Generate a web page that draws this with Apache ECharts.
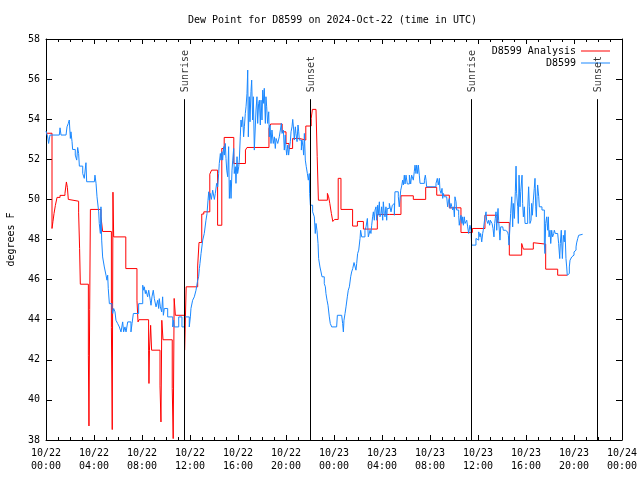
<!DOCTYPE html>
<html><head><meta charset="utf-8">
<script src="https://cdn.jsdelivr.net/npm/echarts@6/dist/echarts.min.js"></script>
<style>html,body{margin:0;padding:0;background:#fff}#c{width:640px;height:480px}</style>
</head><body><div id="c"></div>
<script>
const FONT = 'DejaVu Sans Mono';
const titleText = 'Dew Point for D8599 on 2024-Oct-22 (time in UTC)';
const yName = 'degrees F';
const yMin = 38, yMax = 58, yStep = 2;
const xMin = 0, xMax = 48, xStep = 4; // hours since 10/22 00:00 UTC
const xTickLabels = ['10/22\n00:00','10/22\n04:00','10/22\n08:00','10/22\n12:00','10/22\n16:00','10/22\n20:00',
  '10/23\n00:00','10/23\n04:00','10/23\n08:00','10/23\n12:00','10/23\n16:00','10/23\n20:00','10/24\n00:00'];
const seriesNames = ['D8599 Analysis', 'D8599'];
const sunTimes = [11.53, 22.03, 35.47, 45.94];
const sunLabels = ['Sunrise', 'Sunset', 'Sunrise', 'Sunset'];
const sunLineTop = 55.0;

// [hour, dew point °F]
const analysisData = [[0,53.3],[0.5,48.55],[0.58,48.9],[0.67,49.3],[0.78,49.7],[0.92,50.1],[1.17,50.2],[1.58,50.3],[1.7,50.87],[1.78,50.6],[1.86,50.0],[1.95,49.91],[2.72,49.33],[2.8,47.55],[2.86,45.77],[3.53,42.23],[3.58,38.7],[3.64,44.5],[3.7,49.5],[4.58,49.13],[4.72,48.4],[5.45,43.6],[5.52,38.52],[5.58,50.36],[5.64,48.13],[6.65,46.55],[7.58,44.97],[7.67,43.89],[7.75,44.0],[8.55,42.48],[8.58,40.82],[8.62,42.48],[8.72,43.72],[8.8,42.48],[9.5,40.7],[9.58,38.9],[9.65,43.97],[9.75,43.0],[10.52,40.57],[10.6,38.07],[10.68,45.06],[10.78,44.22],[11.55,42.48],[11.68,45.64],[12.64,46.68],[12.75,47.85],[12.98,49.27],[13.15,49.38],[13.65,51.26],[13.8,51.46],[14.3,48.71],[14.65,52.54],[14.85,53.09],[15.65,51.79],[16.62,52.46],[16.75,52.59],[18.58,53.54],[18.72,53.76],[19.68,53.37],[20.0,52.79],[20.25,52.54],[20.55,53.04],[21.1,52.96],[21.65,53.66],[22.1,54.04],[22.2,54.49],[22.5,54.4],[22.6,52.13],[22.7,49.96],[23.45,50.3],[23.55,50.13],[23.65,49.8],[23.78,49.3],[23.9,48.9],[24.05,49.0],[24.35,51.05],[24.58,49.5],[25.55,48.67],[25.95,48.9],[26.45,48.52],[27.61,49.25],[28.61,49.17],[28.67,49.25],[29.58,50.18],[30.61,50.0],[31.64,50.6],[32.56,50.21],[33.61,49.58],[34.58,48.35],[35.53,48.55],[36.58,49.21],[37.61,48.85],[38.61,47.22],[39.64,47.8],[39.78,47.52],[40.61,47.84],[40.75,47.77],[41.64,46.52],[42.64,46.22],[43.44,46.22]];

const stationData = [[0,53.41],[0.14,53.12],[0.22,52.79],[0.33,53.21],[1.11,53.21],[1.17,53.57],[1.25,53.21],[1.67,53.21],[1.75,53.62],[1.86,53.79],[1.94,53.96],[2.03,53.04],[2.08,53.37],[2.17,52.88],[2.22,52.49],[2.44,52.21],[2.56,51.96],[2.64,52.59],[2.72,52.29],[2.78,51.66],[3.06,51.29],[3.19,51.05],[3.33,51.83],[3.39,50.88],[4.03,50.88],[4.08,51.21],[4.17,50.8],[4.25,50.13],[4.39,49.38],[4.44,48.8],[4.53,48.3],[4.58,49.63],[4.64,47.97],[4.72,47.13],[4.86,46.63],[5.0,46.22],[5.08,45.97],[5.14,46.22],[5.19,45.55],[5.28,44.8],[5.5,44.56],[5.56,44.31],[5.64,44.56],[5.75,44.39],[5.83,43.97],[5.97,43.81],[6.11,43.64],[6.25,43.39],[6.39,43.89],[6.47,43.39],[6.58,43.64],[6.67,43.39],[6.81,43.89],[7.08,43.39],[7.17,43.81],[7.28,44.31],[7.72,44.8],[8.06,45.72],[8.14,45.47],[8.19,45.64],[8.28,45.3],[8.33,45.47],[8.47,45.14],[8.56,45.47],[8.69,44.97],[8.75,44.72],[8.83,45.14],[8.94,45.47],[9.03,45.05],[9.17,44.64],[9.31,44.97],[9.39,44.56],[9.44,45.05],[9.53,44.64],[9.64,44.39],[9.72,45.14],[9.78,44.22],[9.86,44.56],[10.14,44.14],[10.56,43.64],[10.64,43.97],[10.69,43.64],[11.06,44.14],[11.33,43.64],[11.53,44.14],[11.94,43.64],[12.03,44.14],[12.08,44.56],[12.22,44.97],[12.36,45.14],[12.5,45.47],[12.64,45.97],[12.72,46.14],[12.78,46.55],[12.83,46.8],[12.92,47.3],[13.06,47.97],[13.19,48.3],[13.33,48.96],[13.42,49.3],[13.5,49.96],[13.56,50.38],[13.61,49.96],[13.69,50.3],[13.78,50.0],[13.89,50.46],[14.03,50.0],[14.11,50.3],[14.22,50.8],[14.31,50.63],[14.39,51.29],[14.44,51.79],[14.53,52.29],[14.58,51.96],[14.67,52.38],[14.72,51.96],[14.81,52.63],[14.86,52.21],[14.94,52.79],[15.0,52.04],[15.06,51.46],[15.14,51.13],[15.22,52.63],[15.28,50.05],[15.36,50.96],[15.42,50.05],[15.5,51.46],[15.56,51.96],[15.64,52.54],[15.69,51.29],[15.78,51.63],[15.83,50.8],[15.92,52.13],[15.97,51.29],[16.06,51.63],[16.11,51.96],[16.19,53.12],[16.25,53.96],[16.31,53.62],[16.39,54.12],[16.47,53.12],[16.53,53.62],[16.61,54.29],[16.67,54.62],[16.75,55.29],[16.81,56.45],[16.86,53.12],[16.94,55.12],[17.0,53.87],[17.08,55.37],[17.14,55.95],[17.22,53.96],[17.28,55.12],[17.36,52.46],[17.5,54.46],[17.58,55.12],[17.64,53.79],[17.72,54.79],[17.78,54.95],[17.86,53.71],[17.92,54.95],[18.0,53.96],[18.06,55.45],[18.14,54.79],[18.19,55.54],[18.28,53.79],[18.33,55.12],[18.39,54.62],[18.47,53.79],[18.56,54.37],[18.61,53.12],[18.67,53.71],[18.75,52.79],[18.83,53.46],[18.94,52.79],[19.03,53.12],[19.11,52.54],[19.17,53.04],[19.31,52.79],[19.44,53.12],[19.53,53.46],[19.61,53.79],[19.67,53.29],[19.78,53.46],[19.86,52.46],[19.94,53.21],[20.0,52.54],[20.06,52.21],[20.14,52.71],[20.22,52.21],[20.28,52.54],[20.36,52.88],[20.42,53.37],[20.5,53.62],[20.56,53.99],[20.64,53.46],[20.69,52.96],[20.78,53.62],[20.83,53.29],[20.92,52.88],[21.0,53.71],[21.06,53.37],[21.11,52.96],[21.28,52.46],[21.33,52.96],[21.42,52.63],[21.47,52.21],[21.53,53.29],[21.61,51.96],[21.69,51.63],[21.78,51.29],[21.86,50.96],[21.94,51.29],[21.97,50.3],[22.03,49.71],[22.22,49.38],[22.36,49.13],[22.44,48.3],[22.5,48.8],[22.58,48.46],[22.67,47.8],[22.72,47.05],[22.83,46.63],[22.92,46.38],[23.0,46.14],[23.19,45.8],[23.28,45.64],[23.33,45.3],[23.42,44.97],[23.5,44.72],[23.61,44.14],[23.69,43.81],[23.81,43.64],[24.22,43.64],[24.28,44.22],[24.64,44.22],[24.72,43.81],[24.78,43.39],[24.83,43.97],[24.92,44.31],[25.0,44.64],[25.11,45.14],[25.19,45.47],[25.28,45.64],[25.39,46.14],[25.47,46.38],[25.56,46.55],[25.67,46.85],[25.75,46.8],[25.83,46.47],[25.89,46.8],[25.97,47.3],[26.06,47.47],[26.17,48.05],[26.22,48.46],[26.31,48.13],[26.58,48.46],[26.67,48.63],[26.78,49.05],[26.86,48.13],[27.0,48.46],[27.08,48.3],[27.14,48.71],[27.22,49.13],[27.28,49.38],[27.36,48.96],[27.42,49.47],[27.5,49.63],[27.56,48.96],[27.64,49.71],[27.69,49.21],[27.78,49.88],[27.83,49.13],[27.92,49.3],[27.97,49.63],[28.06,48.96],[28.11,49.88],[28.19,49.3],[28.25,49.13],[28.33,49.63],[28.39,48.96],[28.44,49.55],[28.61,49.8],[28.75,49.38],[28.86,49.71],[28.94,49.8],[29.03,49.21],[29.08,50.38],[29.36,50.13],[29.44,49.63],[29.56,50.46],[29.64,50.67],[29.72,50.96],[29.78,50.72],[29.86,51.21],[29.92,50.77],[30.0,51.21],[30.11,50.77],[30.28,51.21],[30.39,50.77],[30.47,51.21],[30.61,50.96],[30.69,51.38],[30.75,51.71],[30.83,51.29],[30.89,51.71],[30.97,51.29],[31.03,51.71],[31.11,51.21],[31.17,50.8],[31.53,50.96],[31.61,51.21],[31.67,50.96],[31.72,50.63],[32.5,50.8],[32.61,51.05],[32.69,50.72],[32.78,51.05],[32.83,50.46],[32.92,50.3],[33.0,50.55],[33.06,50.05],[33.11,50.3],[33.19,50.13],[33.39,50.13],[33.47,49.63],[33.53,49.88],[33.61,50.05],[33.67,49.55],[33.75,49.8],[33.89,49.47],[33.97,49.63],[34.03,49.13],[34.08,50.13],[34.17,49.88],[34.22,49.47],[34.39,49.21],[34.44,48.71],[34.5,48.96],[34.58,49.21],[34.67,48.8],[34.72,49.13],[34.78,48.71],[34.86,49.13],[34.92,48.8],[35.06,48.96],[35.14,48.63],[35.22,48.3],[35.33,48.71],[35.42,48.46],[35.47,47.72],[35.83,48.05],[35.94,47.97],[36.06,48.38],[36.17,48.13],[36.22,48.3],[36.31,47.88],[36.39,48.3],[36.44,48.46],[36.58,49.13],[36.67,49.38],[36.72,48.96],[36.81,48.8],[36.89,48.96],[36.97,48.71],[37.03,48.96],[37.11,49.05],[37.17,48.8],[37.25,48.55],[37.33,48.13],[37.39,48.8],[37.44,49.05],[37.5,49.38],[37.56,48.46],[37.61,49.13],[37.67,49.55],[37.72,48.96],[37.83,47.97],[37.89,48.63],[38.06,48.71],[38.11,48.46],[38.28,48.38],[38.47,48.46],[38.53,48.21],[38.58,47.72],[38.67,48.71],[38.72,49.3],[38.81,50.13],[38.89,48.63],[38.94,49.8],[39.03,49.05],[39.11,50.38],[39.17,51.66],[39.22,50.3],[39.31,49.63],[39.36,48.8],[39.42,51.21],[39.5,49.63],[39.56,50.38],[39.67,51.21],[39.72,49.8],[39.78,49.13],[39.86,49.63],[39.92,48.8],[40.06,48.8],[40.14,49.47],[40.22,50.63],[40.28,49.63],[40.33,48.8],[40.42,48.96],[40.47,49.8],[40.53,49.21],[40.61,49.96],[40.69,50.55],[40.75,51.05],[40.81,49.63],[40.86,49.13],[40.92,50.13],[40.97,50.72],[41.06,50.13],[41.11,49.63],[41.33,49.47],[41.44,49.47],[41.53,47.8],[41.58,47.3],[41.64,48.8],[41.72,49.13],[41.81,48.46],[41.86,49.13],[41.92,48.13],[42.0,48.46],[42.06,47.8],[42.14,48.46],[42.22,48.13],[42.31,48.3],[42.36,48.46],[42.44,48.3],[42.64,48.3],[42.72,47.8],[42.81,47.05],[42.86,47.8],[42.94,48.46],[43.03,47.05],[43.11,48.21],[43.19,47.88],[43.25,48.46],[43.33,47.05],[43.39,46.63],[43.44,46.22],[43.53,46.3],[43.61,46.63],[43.67,46.97],[43.81,47.13],[43.89,47.22],[44.0,47.38],[44.08,47.47],[44.17,47.63],[44.22,47.83],[44.31,48.05],[44.39,48.21],[44.44,48.26],[44.72,48.26]];

const RED = '#ff0000', BLUE = '#1a88ff';
const chart = echarts.init(document.getElementById('c'), null, {renderer: 'canvas'});
const txt = {fontFamily: FONT, fontSize: 10, color: '#000'};
const axisBase = {
  axisLine: {show: true, onZero: false, lineStyle: {color: '#000', width: 1}},
  splitLine: {show: false}
};
chart.setOption({
  animation: false,
  backgroundColor: '#fff',
  title: {text: titleText, left: 183, top: 10, textStyle: Object.assign({}, txt, {fontWeight: 'normal'})},
  legend: [
    {data: [seriesNames[0]], right: 25, top: 41, orient: 'vertical', align: 'right', icon: 'rect', itemWidth: 29, itemHeight: 1, itemGap: 6, textStyle: txt, selectedMode: false},
    {data: [seriesNames[1]], right: 25, top: 53, orient: 'vertical', align: 'right', icon: 'rect', itemWidth: 29, itemHeight: 1, itemGap: 6, textStyle: txt, selectedMode: false}
  ],
  grid: {left: 46, right: 18, top: 39, bottom: 40, containLabel: false, outerBoundsMode: 'none'},
  xAxis: [
    Object.assign({type: 'value', min: xMin, max: xMax, interval: xStep, position: 'bottom',
      axisTick: {show: true, inside: true, length: 5, lineStyle: {color: '#000'}},
      minorTick: {show: true, splitNumber: 4, length: 3, lineStyle: {color: '#000'}},
      axisLabel: Object.assign({}, txt, {margin: 7, lineHeight: 13, formatter: v => xTickLabels[Math.round((v - xMin) / xStep)]})
    }, axisBase),
    Object.assign({type: 'value', min: xMin, max: xMax, interval: xStep, position: 'top',
      axisTick: {show: true, inside: true, length: 5, lineStyle: {color: '#000'}},
      minorTick: {show: true, splitNumber: 4, length: 3, lineStyle: {color: '#000'}},
      axisLabel: {show: false}
    }, axisBase)
  ],
  yAxis: [
    Object.assign({type: 'value', min: yMin, max: yMax, interval: yStep, position: 'left',
      name: yName, nameLocation: 'middle', nameGap: 30, nameRotate: 90, nameTextStyle: txt,
      axisTick: {show: true, inside: true, length: 6, lineStyle: {color: '#000'}},
      axisLabel: Object.assign({}, txt, {margin: 6})
    }, axisBase),
    Object.assign({type: 'value', min: yMin, max: yMax, interval: yStep, position: 'right',
      axisTick: {show: true, inside: true, length: 6, lineStyle: {color: '#000'}},
      axisLabel: {show: false}
    }, axisBase)
  ],
  series: [
    {name: seriesNames[0], type: 'line', step: 'end', data: analysisData, showSymbol: false, symbol: 'none',
      itemStyle: {color: RED}, lineStyle: {color: RED, width: 1}, z: 3,
      markLine: {silent: true, symbol: 'none', label: {show: false}, lineStyle: {color: '#000', width: 1, type: 'solid'},
        data: sunTimes.map(t => [{coord: [t, yMin]}, {coord: [t, sunLineTop]}])}},
    {name: seriesNames[1], type: 'line', step: 'end', data: stationData, showSymbol: false, symbol: 'none',
      itemStyle: {color: BLUE}, lineStyle: {color: BLUE, width: 1}, z: 4},
    {type: 'scatter', silent: true, symbolSize: 0, z: 5,
      data: sunTimes.map((t, i) => ({value: [t, sunLineTop], name: sunLabels[i]})),
      label: Object.assign({show: true, formatter: '{b}', position: [1, -7], align: 'left', verticalAlign: 'middle', rotate: 90}, txt)}
  ]
});
</script></body></html>
